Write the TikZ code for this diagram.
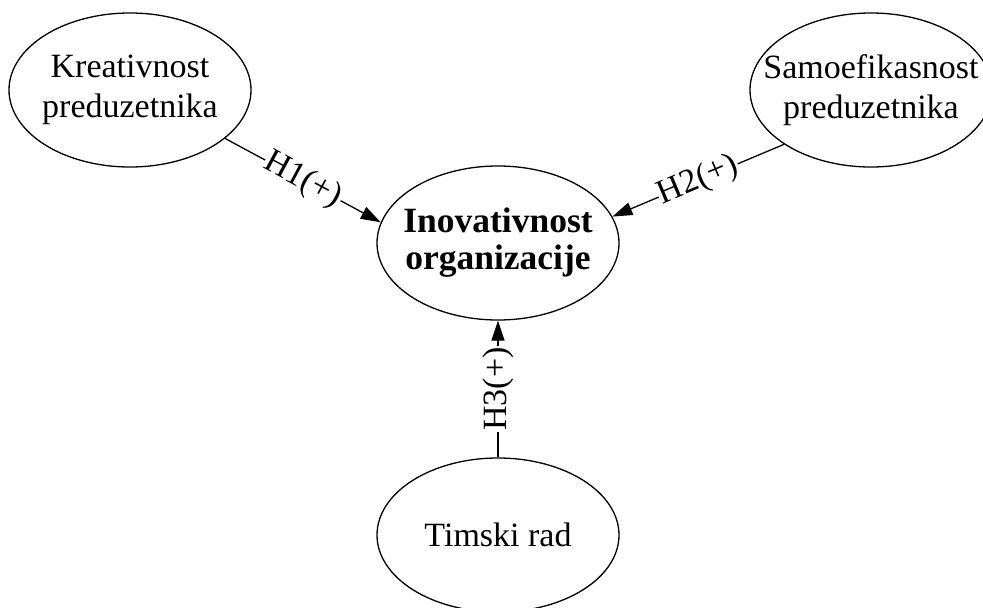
\documentclass[tikz,border=0pt]{standalone}
\usepackage{fontspec}
\setmainfont{Liberation Serif}
\usetikzlibrary{shapes.geometric,arrows.meta}
\begin{document}
\begin{tikzpicture}[x=1pt,y=-1pt,
  every node/.style={font=\fontsize{34}{40}\selectfont},
  ell/.style={ellipse,draw,line width=1.3pt,minimum width=242pt,minimum height=154pt,inner sep=0pt},
  txt/.style={align=center,inner sep=0pt},
  hyp/.style={-{Triangle[length=20pt,width=13pt]},line width=1.3pt},
  hlab/.style={sloped,fill=white,inner sep=1pt}
]
\useasboundingbox (0,0) rectangle (983,608);

% constructs
\node[ell] (K) at (130,90) {};
\node[txt] (Kt) at (K) {Kreativnost\\preduzetnika};
\node[ell] (S) at (871,90) {};
\node[txt] (St) at (S) {Samoefikasnost\\preduzetnika};
\node[ell] (I) at (498,243) {};
\node[txt,font=\fontsize{35.5}{37}\selectfont\bfseries] (It) at (I) {Inovativnost\\organizacije};
\node[ell] (T) at (498,535) {};
\node[txt] (Tt) at (T) {Timski rad};

% hypotheses
\draw[hyp] (K.-27) -- node[hlab] (h1) {H1(+)} (I.170);
\draw[hyp] (S.212) -- node[hlab] (h2) {H2(+)} (I.13);
\draw[hyp] (T.north) -- node[hlab] (h3) {H3(+)} (I.south);
\end{tikzpicture}
\end{document}
